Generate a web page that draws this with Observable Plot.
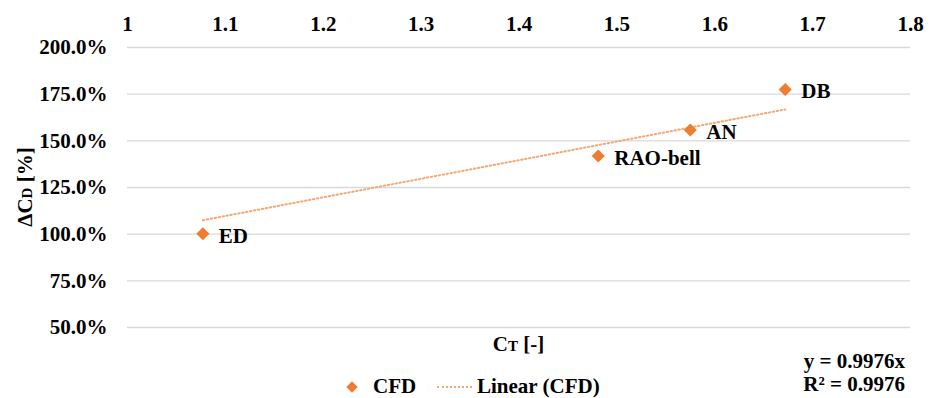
<!DOCTYPE html>
<html>
<head>
<meta charset="utf-8">
<script src="https://cdn.jsdelivr.net/npm/d3@7"></script>
<script src="https://cdn.jsdelivr.net/npm/@observablehq/plot@0.6"></script>
<style>
  body { margin: 0; background: #fff; }
  #wrap { position: relative; width: 930px; height: 398px; font-family: 'Liberation Serif', 'Times New Roman', serif; font-weight: bold; color: #000; }
  .abs { position: absolute; font-size: 21px; line-height: 21px; white-space: nowrap; font-family: 'Liberation Serif', serif; font-weight: bold; }
</style>
</head>
<body>
<div id="wrap"></div>
<script>
// ---- data ----
const names = ["ED", "RAO-bell", "AN", "DB"];
const ctValues = [1.077, 1.481, 1.575, 1.672];
const dcdValues = [1.002, 1.419, 1.558, 1.775];
const xTicks = [1, 1.1, 1.2, 1.3, 1.4, 1.5, 1.6, 1.7, 1.8];
const yTicks = [0.5, 0.75, 1.0, 1.25, 1.5, 1.75, 2.0];
const trendSlope = 0.9976;
const trendR2 = 0.9976;
const seriesName = "CFD";

const orange = "#ED7D31";
const trendColor = "#F4A874";

const pts = names.map((n, i) => ({ name: n, x: ctValues[i], y: dcdValues[i] }));
const trend = d3.extent(ctValues).map(x => ({ x, y: trendSlope * x }));

const W = 930, H = 358, mT = 47, mB = 31, mL = 127, mR = 20;
const FF = "Liberation Serif, serif";

const plot = Plot.plot({
  width: W, height: H,
  marginTop: mT, marginBottom: mB, marginLeft: mL, marginRight: mR,
  x: { domain: [1, 1.8] },
  y: { domain: [0.5, 2.0] },
  style: { fontFamily: FF, fontSize: "21px", fontWeight: "bold", color: "#000", background: "#fff" },
  marks: [
    Plot.gridY(yTicks, { stroke: "#d9d9d9", strokeOpacity: 1, strokeWidth: 1.3 }),
    Plot.axisX(xTicks, { anchor: "top", tickSize: 0, tickPadding: 17, tickFormat: d => String(+d.toFixed(1)), label: null, fontSize: 21 }),
    Plot.axisY(yTicks, { anchor: "left", tickSize: 0, tickPadding: 20, tickFormat: d3.format(".1%"), label: null, fontSize: 21 }),
    Plot.line(trend, { x: "x", y: "y", stroke: trendColor, strokeWidth: 2, strokeDasharray: "1.5 2.5" }),
    Plot.dot(pts, { x: "x", y: "y", symbol: "diamond2", r: 5.9, fill: orange, stroke: "none" }),
    Plot.text(pts, { x: "x", y: "y", text: "name", textAnchor: "start", dx: 16, dy: 2, fill: "#000", fontSize: 21 })
  ]
});

const svg = d3.select(plot);
svg.selectAll("text").attr("font-family", FF).attr("font-weight", "bold");
// Y axis label: ΔC_D [%]
const yl = svg.append("text")
  .attr("transform", `translate(32,${(mT + H - mB) / 2}) rotate(-90)`)
  .attr("text-anchor", "middle").attr("font-family", FF)
  .attr("font-size", 21).attr("font-weight", "bold").attr("fill", "#000");
yl.append("tspan").text("ΔC");
yl.append("tspan").attr("font-size", 15).text("D");
yl.append("tspan").text(" [%]");
// X axis label: C_T [-]
const xl = svg.append("text")
  .attr("x", (mL + W - mR) / 2).attr("y", 351)
  .attr("text-anchor", "middle").attr("font-family", FF)
  .attr("font-size", 21).attr("font-weight", "bold").attr("fill", "#000");
xl.append("tspan").text("C");
xl.append("tspan").attr("font-size", 15).text("T");
xl.append("tspan").text(" [-]");

const wrap = document.getElementById("wrap");
wrap.appendChild(plot);

// equation (two lines)
[[`y = ${trendSlope}x`, 350.5], [`R² = ${trendR2}`, 373.8]].forEach(([t, top]) => {
  const d = document.createElement("div");
  d.className = "abs";
  d.style.right = "25px"; d.style.top = top + "px"; d.style.textAlign = "right";
  d.textContent = t;
  wrap.appendChild(d);
});

// legend
const mk = document.createElement("div");
mk.style.cssText = `position:absolute;left:348px;top:383px;width:8px;height:8px;background:${orange};transform:rotate(45deg);`;
wrap.appendChild(mk);
const l1 = document.createElement("div");
l1.className = "abs"; l1.style.left = "373px"; l1.style.top = "376px"; l1.textContent = seriesName;
wrap.appendChild(l1);
const ln = document.createElement("div");
ln.style.cssText = `position:absolute;left:437px;top:386px;width:35px;height:0;border-top:2px dotted ${trendColor};`;
wrap.appendChild(ln);
const l2 = document.createElement("div");
l2.className = "abs"; l2.style.left = "477px"; l2.style.top = "376px"; l2.textContent = `Linear (${seriesName})`;
wrap.appendChild(l2);
</script>
</body>
</html>
